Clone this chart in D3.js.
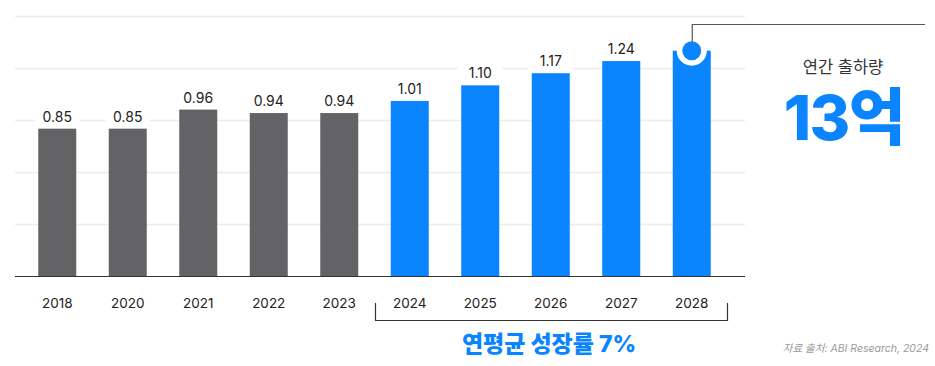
<!DOCTYPE html>
<html>
<head>
<meta charset="utf-8">
<script src="https://cdn.jsdelivr.net/npm/d3@7"></script>
<style>
  html, body { margin: 0; padding: 0; background: #fff; }
  svg { display: block; font-family: "Inter", "Noto Sans CJK KR", sans-serif; }
</style>
</head>
<body>
<svg id="chart" width="935" height="366"></svg>
<script>
  // data
  var years = ["2018", "2020", "2021", "2022", "2023", "2024", "2025", "2026", "2027", "2028"];
  var shipments = [0.85, 0.85, 0.96, 0.94, 0.94, 1.01, 1.10, 1.17, 1.24, 1.30];
  var forecastYears = ["2024", "2025", "2026", "2027", "2028"];
  var gridTicks = [0.3, 0.6, 0.9, 1.2, 1.5];
  var calloutTitle = "연간 출하량";
  var calloutValue = "13억";
  var growthLabel = "연평균 성장률 7%";
  var sourceLabel = "자료 출처: ABI Research, 2024";

  var GRAY = "#636366",
    BLUE = "#0a84ff";

  var svg = d3.select("#chart");
  var baseY = 276,
    barW = 38;

  var x = d3.scalePoint()
    .domain(years)
    .range([22, 727])
    .padding(0.5);

  var y = d3.scaleLinear()
    .domain([0, 1.5])
    .range([baseY, 16]);

  // gridlines
  svg.append("g")
    .selectAll("line")
    .data(gridTicks)
    .join("line")
    .attr("x1", 15)
    .attr("x2", 745)
    .attr("y1", function(d) { return Math.round(y(d)) + 0.5; })
    .attr("y2", function(d) { return Math.round(y(d)) + 0.5; })
    .attr("stroke", "#ececec")
    .attr("stroke-width", 1.5);

  var data = years.map(function(yr, i) { return {year: yr, value: shipments[i]}; });
  var last = data[data.length - 1];

  // bars
  svg.append("g")
    .selectAll("rect")
    .data(data)
    .join("rect")
    .attr("x", function(d) { return x(d.year) - barW / 2; })
    .attr("y", function(d) { return y(d.value); })
    .attr("width", barW)
    .attr("height", function(d) { return baseY - y(d.value); })
    .attr("fill", function(d) { return forecastYears.indexOf(d.year) >= 0 ? BLUE : GRAY; });

  // value labels with white backing (breaks the gridlines)
  var labels = svg.append("g")
    .selectAll("g")
    .data(data.filter(function(d) { return d !== last; }))
    .join("g")
    .attr("transform", function(d) { return "translate(" + x(d.year) + "," + (y(d.value) - 7) + ")"; });

  labels.append("rect")
    .attr("x", -22)
    .attr("y", -16)
    .attr("width", 44)
    .attr("height", 20)
    .attr("fill", "#fff");

  labels.append("text")
    .attr("text-anchor", "middle")
    .attr("font-size", 14)
    .attr("fill", "#222")
    .text(function(d) { return d3.format(".2f")(d.value); });

  // baseline
  svg.append("line")
    .attr("x1", 15)
    .attr("x2", 745)
    .attr("y1", baseY + 0.5)
    .attr("y2", baseY + 0.5)
    .attr("stroke", "#333")
    .attr("stroke-width", 1.2);

  // year labels
  svg.append("g")
    .selectAll("text")
    .data(years)
    .join("text")
    .attr("x", function(d) { return x(d); })
    .attr("y", 308)
    .attr("text-anchor", "middle")
    .attr("font-size", 13.5)
    .attr("fill", "#222")
    .text(function(d) { return d; });

  // marker on the 2028 bar + callout line
  var cx = x(last.year),
    cy = y(last.value);
  svg.append("circle")
    .attr("cx", cx).attr("cy", cy).attr("r", 15)
    .attr("fill", "#fff");
  svg.append("circle")
    .attr("cx", cx).attr("cy", cy).attr("r", 9.5)
    .attr("fill", BLUE);
  svg.append("path")
    .attr("d", "M" + (cx + 0.5) + "," + (cy - 9) + "V24.5H925")
    .attr("fill", "none")
    .attr("stroke", "#555")
    .attr("stroke-width", 1.2);

  svg.append("text")
    .attr("x", 843)
    .attr("y", 73)
    .attr("text-anchor", "middle")
    .attr("font-size", 16.5)
    .attr("fill", "#333")
    .text(calloutTitle);

  svg.append("text")
    .attr("x", 844)
    .attr("y", 140)
    .attr("text-anchor", "middle")
    .attr("font-size", 62)
    .attr("font-weight", 800)
    .attr("letter-spacing", -1.5)
    .attr("fill", BLUE)
    .text(calloutValue);

  // forecast bracket
  var bx0 = 375,
    bx1 = 727;
  svg.append("path")
    .attr("d", "M" + (bx0 + 0.5) + ",303V320.5H" + (bx1 + 0.5) + "V303")
    .attr("fill", "none")
    .attr("stroke", "#333")
    .attr("stroke-width", 1.2);

  svg.append("text")
    .attr("x", 549)
    .attr("y", 352)
    .attr("text-anchor", "middle")
    .attr("font-size", 23)
    .attr("font-weight", 800)
    .attr("fill", BLUE)
    .text(growthLabel);

  svg.append("text")
    .attr("x", 929)
    .attr("y", 352)
    .attr("text-anchor", "end")
    .attr("font-size", 10.5)
    .attr("font-style", "italic")
    .attr("fill", "#999")
    .text(sourceLabel);
</script>
</body>
</html>
